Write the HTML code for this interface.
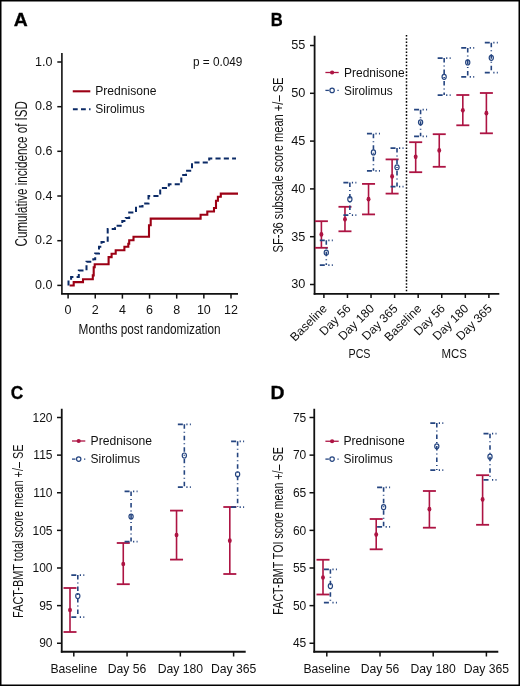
<!DOCTYPE html>
<html><head><meta charset="utf-8"><style>
html,body{margin:0;padding:0;background:#fff;}
body{width:520px;height:686px;overflow:hidden;}
svg{display:block;font-family:"Liberation Sans",sans-serif;will-change:transform;}
</style></head><body>
<svg width="520" height="686" viewBox="0 0 520 686">
<rect x="0" y="0" width="520" height="686" fill="#fff"/>
<text x="13.8" y="25.5" font-size="19" text-anchor="start" font-weight="bold" fill="#000" textLength="14.0" lengthAdjust="spacingAndGlyphs" stroke="#000" stroke-width="0.3">A</text>
<line x1="61.9" y1="53" x2="61.9" y2="294.3" stroke="#111" stroke-width="1.6" stroke-linecap="butt"/>
<line x1="61.1" y1="293.8" x2="238" y2="293.8" stroke="#111" stroke-width="1.8" stroke-linecap="butt"/>
<line x1="57.3" y1="62" x2="61.9" y2="62" stroke="#111" stroke-width="1.5" stroke-linecap="butt"/>
<text x="52.4" y="65.6" font-size="12.5" text-anchor="end" font-weight="normal" fill="#111">1.0</text>
<line x1="57.3" y1="106.7" x2="61.9" y2="106.7" stroke="#111" stroke-width="1.5" stroke-linecap="butt"/>
<text x="52.4" y="110.3" font-size="12.5" text-anchor="end" font-weight="normal" fill="#111">0.8</text>
<line x1="57.3" y1="151.3" x2="61.9" y2="151.3" stroke="#111" stroke-width="1.5" stroke-linecap="butt"/>
<text x="52.4" y="154.9" font-size="12.5" text-anchor="end" font-weight="normal" fill="#111">0.6</text>
<line x1="57.3" y1="196" x2="61.9" y2="196" stroke="#111" stroke-width="1.5" stroke-linecap="butt"/>
<text x="52.4" y="199.6" font-size="12.5" text-anchor="end" font-weight="normal" fill="#111">0.4</text>
<line x1="57.3" y1="240.7" x2="61.9" y2="240.7" stroke="#111" stroke-width="1.5" stroke-linecap="butt"/>
<text x="52.4" y="244.29999999999998" font-size="12.5" text-anchor="end" font-weight="normal" fill="#111">0.2</text>
<line x1="57.3" y1="285.4" x2="61.9" y2="285.4" stroke="#111" stroke-width="1.5" stroke-linecap="butt"/>
<text x="52.4" y="289.0" font-size="12.5" text-anchor="end" font-weight="normal" fill="#111">0.0</text>
<line x1="68.1" y1="293.8" x2="68.1" y2="298.6" stroke="#111" stroke-width="1.5" stroke-linecap="butt"/>
<text x="68.1" y="313.8" font-size="12.5" text-anchor="middle" font-weight="normal" fill="#111">0</text>
<line x1="95.25" y1="293.8" x2="95.25" y2="298.6" stroke="#111" stroke-width="1.5" stroke-linecap="butt"/>
<text x="95.25" y="313.8" font-size="12.5" text-anchor="middle" font-weight="normal" fill="#111">2</text>
<line x1="122.39999999999999" y1="293.8" x2="122.39999999999999" y2="298.6" stroke="#111" stroke-width="1.5" stroke-linecap="butt"/>
<text x="122.39999999999999" y="313.8" font-size="12.5" text-anchor="middle" font-weight="normal" fill="#111">4</text>
<line x1="149.54999999999998" y1="293.8" x2="149.54999999999998" y2="298.6" stroke="#111" stroke-width="1.5" stroke-linecap="butt"/>
<text x="149.54999999999998" y="313.8" font-size="12.5" text-anchor="middle" font-weight="normal" fill="#111">6</text>
<line x1="176.7" y1="293.8" x2="176.7" y2="298.6" stroke="#111" stroke-width="1.5" stroke-linecap="butt"/>
<text x="176.7" y="313.8" font-size="12.5" text-anchor="middle" font-weight="normal" fill="#111">8</text>
<line x1="203.85" y1="293.8" x2="203.85" y2="298.6" stroke="#111" stroke-width="1.5" stroke-linecap="butt"/>
<text x="203.85" y="313.8" font-size="12.5" text-anchor="middle" font-weight="normal" fill="#111">10</text>
<line x1="230.99999999999997" y1="293.8" x2="230.99999999999997" y2="298.6" stroke="#111" stroke-width="1.5" stroke-linecap="butt"/>
<text x="230.99999999999997" y="313.8" font-size="12.5" text-anchor="middle" font-weight="normal" fill="#111">12</text>
<text x="78.6" y="334" font-size="14.5" text-anchor="start" font-weight="normal" fill="#111" textLength="142" lengthAdjust="spacingAndGlyphs">Months post randomization</text>
<text x="26.9" y="246.4" font-size="15.8" text-anchor="start" font-weight="normal" fill="#111" textLength="145.3" lengthAdjust="spacingAndGlyphs" transform="rotate(-90 26.9 246.4)">Cumulative incidence of ISD</text>
<text x="242.4" y="66.3" font-size="12.5" text-anchor="end" font-weight="normal" fill="#111" textLength="49.5" lengthAdjust="spacingAndGlyphs">p = 0.049</text>
<line x1="72.75" y1="91.3" x2="90.3" y2="91.3" stroke="#9c0014" stroke-width="2.1" stroke-linecap="butt"/>
<line x1="72.9" y1="109.3" x2="90.5" y2="109.3" stroke="#0b2a66" stroke-width="2" stroke-dasharray="4.8 3.3" stroke-linecap="butt"/>
<text x="95.2" y="94.9" font-size="12.5" text-anchor="start" font-weight="normal" fill="#111" textLength="61.25" lengthAdjust="spacingAndGlyphs">Prednisone</text>
<text x="95.2" y="112.9" font-size="12.5" text-anchor="start" font-weight="normal" fill="#111" textLength="49.5" lengthAdjust="spacingAndGlyphs">Sirolimus</text>
<path d="M69.6,285.2 H73.7 V281.8 H83 V279 H92.8 V275.1 H93.7 V266.9 H94.7 V264 H108.6 V256.8 H111.6 V253.5 H115.7 V250 H124.4 V246.5 H128.3 V243.4 H129.2 V239.9 H133.5 V236.4 H149 V225 H150.7 V218.3 H200.6 V214.4 H207.3 V211.2 H214 V207.7 H216 V200.4 H217.9 V196.5 H220.8 V193.3 H238" fill="none" stroke="#9c0014" stroke-width="2.1" transform="translate(0 0.3)"/>
<path d="M68.5,285 V280.9 H71.1 V276.5 H78.8 V270 H86.5 V261.2 H93.3 V258.8 H95.2 V253 H99 V246.3 H101.5 V241.4 H107.7 V228.6 H115 V225.2 H122.3 V220.6 H125.8 V217.5 H129.2 V212 H136 V206 H142.5 V203 H148.5 V195.6 H160.2 V187.5 H168.8 V183.7 H181.3 V174.6 H186 V170.2 H192 V161.9 H209.2 V158.1 H236" fill="none" stroke="#0b2a66" stroke-width="2" stroke-dasharray="5.1 3.2" transform="translate(0 0.5)"/>
<text x="270.7" y="25.5" font-size="19" text-anchor="start" font-weight="bold" fill="#000" textLength="12.0" lengthAdjust="spacingAndGlyphs" stroke="#000" stroke-width="0.3">B</text>
<line x1="314.6" y1="35.75" x2="314.6" y2="294.8" stroke="#111" stroke-width="1.8" stroke-linecap="butt"/>
<line x1="313.7" y1="293.9" x2="499.3" y2="293.9" stroke="#111" stroke-width="1.8" stroke-linecap="butt"/>
<line x1="310" y1="45.5" x2="314.6" y2="45.5" stroke="#111" stroke-width="1.5" stroke-linecap="butt"/>
<text x="305.3" y="49.3" font-size="12.7" text-anchor="end" font-weight="normal" fill="#111">55</text>
<line x1="310" y1="93.3" x2="314.6" y2="93.3" stroke="#111" stroke-width="1.5" stroke-linecap="butt"/>
<text x="305.3" y="97.1" font-size="12.7" text-anchor="end" font-weight="normal" fill="#111">50</text>
<line x1="310" y1="141.1" x2="314.6" y2="141.1" stroke="#111" stroke-width="1.5" stroke-linecap="butt"/>
<text x="305.3" y="144.9" font-size="12.7" text-anchor="end" font-weight="normal" fill="#111">45</text>
<line x1="310" y1="188.89999999999998" x2="314.6" y2="188.89999999999998" stroke="#111" stroke-width="1.5" stroke-linecap="butt"/>
<text x="305.3" y="192.7" font-size="12.7" text-anchor="end" font-weight="normal" fill="#111">40</text>
<line x1="310" y1="236.7" x2="314.6" y2="236.7" stroke="#111" stroke-width="1.5" stroke-linecap="butt"/>
<text x="305.3" y="240.5" font-size="12.7" text-anchor="end" font-weight="normal" fill="#111">35</text>
<line x1="310" y1="284.5" x2="314.6" y2="284.5" stroke="#111" stroke-width="1.5" stroke-linecap="butt"/>
<text x="305.3" y="288.3" font-size="12.7" text-anchor="end" font-weight="normal" fill="#111">30</text>
<line x1="323.9" y1="293.9" x2="323.9" y2="298" stroke="#111" stroke-width="1.5" stroke-linecap="butt"/>
<text x="327.9" y="309.2" font-size="12.1" text-anchor="end" font-weight="normal" fill="#111" transform="rotate(-45 327.9 309.2)">Baseline</text>
<line x1="347.46999999999997" y1="293.9" x2="347.46999999999997" y2="298" stroke="#111" stroke-width="1.5" stroke-linecap="butt"/>
<text x="351.47" y="309.2" font-size="12.1" text-anchor="end" font-weight="normal" fill="#111" transform="rotate(-45 351.47 309.2)">Day 56</text>
<line x1="371.03999999999996" y1="293.9" x2="371.03999999999996" y2="298" stroke="#111" stroke-width="1.5" stroke-linecap="butt"/>
<text x="375.04" y="309.2" font-size="12.1" text-anchor="end" font-weight="normal" fill="#111" transform="rotate(-45 375.04 309.2)">Day 180</text>
<line x1="394.61" y1="293.9" x2="394.61" y2="298" stroke="#111" stroke-width="1.5" stroke-linecap="butt"/>
<text x="398.61" y="309.2" font-size="12.1" text-anchor="end" font-weight="normal" fill="#111" transform="rotate(-45 398.61 309.2)">Day 365</text>
<line x1="418.17999999999995" y1="293.9" x2="418.17999999999995" y2="298" stroke="#111" stroke-width="1.5" stroke-linecap="butt"/>
<text x="422.18" y="309.2" font-size="12.1" text-anchor="end" font-weight="normal" fill="#111" transform="rotate(-45 422.18 309.2)">Baseline</text>
<line x1="441.75" y1="293.9" x2="441.75" y2="298" stroke="#111" stroke-width="1.5" stroke-linecap="butt"/>
<text x="445.75" y="309.2" font-size="12.1" text-anchor="end" font-weight="normal" fill="#111" transform="rotate(-45 445.75 309.2)">Day 56</text>
<line x1="465.32" y1="293.9" x2="465.32" y2="298" stroke="#111" stroke-width="1.5" stroke-linecap="butt"/>
<text x="469.32" y="309.2" font-size="12.1" text-anchor="end" font-weight="normal" fill="#111" transform="rotate(-45 469.32 309.2)">Day 180</text>
<line x1="488.89" y1="293.9" x2="488.89" y2="298" stroke="#111" stroke-width="1.5" stroke-linecap="butt"/>
<text x="492.89" y="309.2" font-size="12.1" text-anchor="end" font-weight="normal" fill="#111" transform="rotate(-45 492.89 309.2)">Day 365</text>
<text x="359.5" y="357.7" font-size="12.5" text-anchor="middle" font-weight="normal" fill="#111" textLength="22" lengthAdjust="spacingAndGlyphs">PCS</text>
<text x="454.3" y="358" font-size="12.5" text-anchor="middle" font-weight="normal" fill="#111" textLength="25.4" lengthAdjust="spacingAndGlyphs">MCS</text>
<line x1="406.5" y1="34.9" x2="406.5" y2="293" stroke="#000" stroke-width="1.5" stroke-dasharray="1.6 1.71" stroke-linecap="butt"/>
<text x="282.8" y="252.5" font-size="15" text-anchor="start" font-weight="normal" fill="#111" textLength="175" lengthAdjust="spacingAndGlyphs" transform="rotate(-90 282.8 252.5)">SF-36 subscale score mean +/&#8211; SE</text>
<line x1="325.4" y1="72.5" x2="338.7" y2="72.5" stroke="#ad1443" stroke-width="1.3" stroke-linecap="butt"/>
<circle cx="332.09999999999997" cy="72.5" r="2.1" fill="#ad1443"/>
<line x1="325.4" y1="90.4" x2="328.9" y2="90.4" stroke="#254580" stroke-width="1.3" stroke-linecap="butt"/>
<circle cx="332.09999999999997" cy="90.4" r="2.2" fill="#fff" stroke="#254580" stroke-width="1.2"/>
<line x1="337.4" y1="90.4" x2="338.7" y2="90.4" stroke="#254580" stroke-width="1.3" stroke-linecap="butt"/>
<text x="344" y="76.7" font-size="12" text-anchor="start" font-weight="normal" fill="#111" textLength="60.6" lengthAdjust="spacingAndGlyphs">Prednisone</text>
<text x="344" y="94.7" font-size="12" text-anchor="start" font-weight="normal" fill="#111" textLength="48.7" lengthAdjust="spacingAndGlyphs">Sirolimus</text>
<line x1="321.4" y1="221.2" x2="321.4" y2="247.8" stroke="#ad1443" stroke-width="1.6" stroke-linecap="butt"/>
<line x1="314.9" y1="221.2" x2="327.9" y2="221.2" stroke="#ad1443" stroke-width="1.8" stroke-linecap="butt"/>
<line x1="314.9" y1="247.8" x2="327.9" y2="247.8" stroke="#ad1443" stroke-width="1.8" stroke-linecap="butt"/>
<ellipse cx="321.4" cy="234.4" rx="1.95" ry="2.35" fill="#ad1443"/>
<line x1="344.97" y1="206.8" x2="344.97" y2="231.3" stroke="#ad1443" stroke-width="1.6" stroke-linecap="butt"/>
<line x1="338.47" y1="206.8" x2="351.47" y2="206.8" stroke="#ad1443" stroke-width="1.8" stroke-linecap="butt"/>
<line x1="338.47" y1="231.3" x2="351.47" y2="231.3" stroke="#ad1443" stroke-width="1.8" stroke-linecap="butt"/>
<ellipse cx="344.97" cy="219.3" rx="1.95" ry="2.35" fill="#ad1443"/>
<line x1="368.54" y1="183.9" x2="368.54" y2="214.4" stroke="#ad1443" stroke-width="1.6" stroke-linecap="butt"/>
<line x1="362.04" y1="183.9" x2="375.04" y2="183.9" stroke="#ad1443" stroke-width="1.8" stroke-linecap="butt"/>
<line x1="362.04" y1="214.4" x2="375.04" y2="214.4" stroke="#ad1443" stroke-width="1.8" stroke-linecap="butt"/>
<ellipse cx="368.54" cy="199.2" rx="1.95" ry="2.35" fill="#ad1443"/>
<line x1="392.11" y1="159.4" x2="392.11" y2="193.6" stroke="#ad1443" stroke-width="1.6" stroke-linecap="butt"/>
<line x1="385.61" y1="159.4" x2="398.61" y2="159.4" stroke="#ad1443" stroke-width="1.8" stroke-linecap="butt"/>
<line x1="385.61" y1="193.6" x2="398.61" y2="193.6" stroke="#ad1443" stroke-width="1.8" stroke-linecap="butt"/>
<ellipse cx="392.11" cy="176.4" rx="1.95" ry="2.35" fill="#ad1443"/>
<line x1="415.68" y1="142.2" x2="415.68" y2="172.2" stroke="#ad1443" stroke-width="1.6" stroke-linecap="butt"/>
<line x1="409.18" y1="142.2" x2="422.18" y2="142.2" stroke="#ad1443" stroke-width="1.8" stroke-linecap="butt"/>
<line x1="409.18" y1="172.2" x2="422.18" y2="172.2" stroke="#ad1443" stroke-width="1.8" stroke-linecap="butt"/>
<ellipse cx="415.68" cy="156.8" rx="1.95" ry="2.35" fill="#ad1443"/>
<line x1="439.25" y1="134.2" x2="439.25" y2="166.8" stroke="#ad1443" stroke-width="1.6" stroke-linecap="butt"/>
<line x1="432.75" y1="134.2" x2="445.75" y2="134.2" stroke="#ad1443" stroke-width="1.8" stroke-linecap="butt"/>
<line x1="432.75" y1="166.8" x2="445.75" y2="166.8" stroke="#ad1443" stroke-width="1.8" stroke-linecap="butt"/>
<ellipse cx="439.25" cy="150.4" rx="1.95" ry="2.35" fill="#ad1443"/>
<line x1="462.82" y1="95" x2="462.82" y2="125.3" stroke="#ad1443" stroke-width="1.6" stroke-linecap="butt"/>
<line x1="456.32" y1="95" x2="469.32" y2="95" stroke="#ad1443" stroke-width="1.8" stroke-linecap="butt"/>
<line x1="456.32" y1="125.3" x2="469.32" y2="125.3" stroke="#ad1443" stroke-width="1.8" stroke-linecap="butt"/>
<ellipse cx="462.82" cy="110.3" rx="1.95" ry="2.35" fill="#ad1443"/>
<line x1="486.39" y1="93" x2="486.39" y2="133.3" stroke="#ad1443" stroke-width="1.6" stroke-linecap="butt"/>
<line x1="479.89" y1="93" x2="492.89" y2="93" stroke="#ad1443" stroke-width="1.8" stroke-linecap="butt"/>
<line x1="479.89" y1="133.3" x2="492.89" y2="133.3" stroke="#ad1443" stroke-width="1.8" stroke-linecap="butt"/>
<ellipse cx="486.39" cy="113.2" rx="1.95" ry="2.35" fill="#ad1443"/>
<line x1="326.3" y1="240.3" x2="326.3" y2="265.1" stroke="#254580" stroke-width="1.6" stroke-dasharray="4.5 3 1 3" stroke-linecap="butt"/>
<line x1="319.8" y1="240.3" x2="332.8" y2="240.3" stroke="#254580" stroke-width="1.75" stroke-dasharray="5 3.5 1.2 2.3 1.5 9" stroke-linecap="butt"/>
<line x1="319.8" y1="265.1" x2="332.8" y2="265.1" stroke="#254580" stroke-width="1.75" stroke-dasharray="5 3.5 1.2 2.3 1.5 9" stroke-linecap="butt"/>
<ellipse cx="326.3" cy="252.7" rx="2.1" ry="2.5" fill="none" stroke="#254580" stroke-width="1.2"/>
<line x1="349.87" y1="182.5" x2="349.87" y2="215.2" stroke="#254580" stroke-width="1.6" stroke-dasharray="4.5 3 1 3" stroke-linecap="butt"/>
<line x1="343.37" y1="182.5" x2="356.37" y2="182.5" stroke="#254580" stroke-width="1.75" stroke-dasharray="5 3.5 1.2 2.3 1.5 9" stroke-linecap="butt"/>
<line x1="343.37" y1="215.2" x2="356.37" y2="215.2" stroke="#254580" stroke-width="1.75" stroke-dasharray="5 3.5 1.2 2.3 1.5 9" stroke-linecap="butt"/>
<ellipse cx="349.87" cy="199.2" rx="2.1" ry="2.5" fill="none" stroke="#254580" stroke-width="1.2"/>
<line x1="373.44" y1="133.7" x2="373.44" y2="170.8" stroke="#254580" stroke-width="1.6" stroke-dasharray="4.5 3 1 3" stroke-linecap="butt"/>
<line x1="366.94" y1="133.7" x2="379.94" y2="133.7" stroke="#254580" stroke-width="1.75" stroke-dasharray="5 3.5 1.2 2.3 1.5 9" stroke-linecap="butt"/>
<line x1="366.94" y1="170.8" x2="379.94" y2="170.8" stroke="#254580" stroke-width="1.75" stroke-dasharray="5 3.5 1.2 2.3 1.5 9" stroke-linecap="butt"/>
<ellipse cx="373.44" cy="152.4" rx="2.1" ry="2.5" fill="none" stroke="#254580" stroke-width="1.2"/>
<line x1="397.01" y1="148" x2="397.01" y2="186.5" stroke="#254580" stroke-width="1.6" stroke-dasharray="4.5 3 1 3" stroke-linecap="butt"/>
<line x1="390.51" y1="148" x2="403.51" y2="148" stroke="#254580" stroke-width="1.75" stroke-dasharray="5 3.5 1.2 2.3 1.5 9" stroke-linecap="butt"/>
<line x1="390.51" y1="186.5" x2="403.51" y2="186.5" stroke="#254580" stroke-width="1.75" stroke-dasharray="5 3.5 1.2 2.3 1.5 9" stroke-linecap="butt"/>
<ellipse cx="397.01" cy="167.3" rx="2.1" ry="2.5" fill="none" stroke="#254580" stroke-width="1.2"/>
<line x1="420.58" y1="109.7" x2="420.58" y2="136.3" stroke="#254580" stroke-width="1.6" stroke-dasharray="4.5 3 1 3" stroke-linecap="butt"/>
<line x1="414.08" y1="109.7" x2="427.08" y2="109.7" stroke="#254580" stroke-width="1.75" stroke-dasharray="5 3.5 1.2 2.3 1.5 9" stroke-linecap="butt"/>
<line x1="414.08" y1="136.3" x2="427.08" y2="136.3" stroke="#254580" stroke-width="1.75" stroke-dasharray="5 3.5 1.2 2.3 1.5 9" stroke-linecap="butt"/>
<ellipse cx="420.58" cy="122.3" rx="2.1" ry="2.5" fill="none" stroke="#254580" stroke-width="1.2"/>
<line x1="444.15" y1="58" x2="444.15" y2="95.1" stroke="#254580" stroke-width="1.6" stroke-dasharray="4.5 3 1 3" stroke-linecap="butt"/>
<line x1="437.65" y1="58" x2="450.65" y2="58" stroke="#254580" stroke-width="1.75" stroke-dasharray="5 3.5 1.2 2.3 1.5 9" stroke-linecap="butt"/>
<line x1="437.65" y1="95.1" x2="450.65" y2="95.1" stroke="#254580" stroke-width="1.75" stroke-dasharray="5 3.5 1.2 2.3 1.5 9" stroke-linecap="butt"/>
<ellipse cx="444.15" cy="76.8" rx="2.1" ry="2.5" fill="none" stroke="#254580" stroke-width="1.2"/>
<line x1="467.72" y1="47.9" x2="467.72" y2="76.8" stroke="#254580" stroke-width="1.6" stroke-dasharray="4.5 3 1 3" stroke-linecap="butt"/>
<line x1="461.22" y1="47.9" x2="474.22" y2="47.9" stroke="#254580" stroke-width="1.75" stroke-dasharray="5 3.5 1.2 2.3 1.5 9" stroke-linecap="butt"/>
<line x1="461.22" y1="76.8" x2="474.22" y2="76.8" stroke="#254580" stroke-width="1.75" stroke-dasharray="5 3.5 1.2 2.3 1.5 9" stroke-linecap="butt"/>
<ellipse cx="467.72" cy="62.4" rx="2.1" ry="2.5" fill="none" stroke="#254580" stroke-width="1.2"/>
<line x1="491.29" y1="42.7" x2="491.29" y2="72.7" stroke="#254580" stroke-width="1.6" stroke-dasharray="4.5 3 1 3" stroke-linecap="butt"/>
<line x1="484.79" y1="42.7" x2="497.79" y2="42.7" stroke="#254580" stroke-width="1.75" stroke-dasharray="5 3.5 1.2 2.3 1.5 9" stroke-linecap="butt"/>
<line x1="484.79" y1="72.7" x2="497.79" y2="72.7" stroke="#254580" stroke-width="1.75" stroke-dasharray="5 3.5 1.2 2.3 1.5 9" stroke-linecap="butt"/>
<ellipse cx="491.29" cy="57.8" rx="2.1" ry="2.5" fill="none" stroke="#254580" stroke-width="1.2"/>
<text x="10.7" y="399.1" font-size="19" text-anchor="start" font-weight="bold" fill="#000" textLength="12.5" lengthAdjust="spacingAndGlyphs" stroke="#000" stroke-width="0.3">C</text>
<line x1="61.75" y1="408.75" x2="61.75" y2="652.6" stroke="#111" stroke-width="1.8" stroke-linecap="butt"/>
<line x1="60.85" y1="651.75" x2="245.7" y2="651.75" stroke="#111" stroke-width="1.8" stroke-linecap="butt"/>
<line x1="57" y1="417.5" x2="61.75" y2="417.5" stroke="#111" stroke-width="1.5" stroke-linecap="butt"/>
<text x="52.5" y="421.7" font-size="12" text-anchor="end" font-weight="normal" fill="#111">120</text>
<line x1="57" y1="455.125" x2="61.75" y2="455.125" stroke="#111" stroke-width="1.5" stroke-linecap="butt"/>
<text x="52.5" y="459.325" font-size="12" text-anchor="end" font-weight="normal" fill="#111">115</text>
<line x1="57" y1="492.75" x2="61.75" y2="492.75" stroke="#111" stroke-width="1.5" stroke-linecap="butt"/>
<text x="52.5" y="496.95" font-size="12" text-anchor="end" font-weight="normal" fill="#111">110</text>
<line x1="57" y1="530.375" x2="61.75" y2="530.375" stroke="#111" stroke-width="1.5" stroke-linecap="butt"/>
<text x="52.5" y="534.575" font-size="12" text-anchor="end" font-weight="normal" fill="#111">105</text>
<line x1="57" y1="568.0" x2="61.75" y2="568.0" stroke="#111" stroke-width="1.5" stroke-linecap="butt"/>
<text x="52.5" y="572.2" font-size="12" text-anchor="end" font-weight="normal" fill="#111">100</text>
<line x1="57" y1="605.625" x2="61.75" y2="605.625" stroke="#111" stroke-width="1.5" stroke-linecap="butt"/>
<text x="52.5" y="609.825" font-size="12" text-anchor="end" font-weight="normal" fill="#111">95</text>
<line x1="57" y1="643.25" x2="61.75" y2="643.25" stroke="#111" stroke-width="1.5" stroke-linecap="butt"/>
<text x="52.5" y="647.45" font-size="12" text-anchor="end" font-weight="normal" fill="#111">90</text>
<line x1="73.8" y1="651.75" x2="73.8" y2="656.5" stroke="#111" stroke-width="1.5" stroke-linecap="butt"/>
<text x="73.8" y="672.5" font-size="12.2" text-anchor="middle" font-weight="normal" fill="#111">Baseline</text>
<line x1="127.07" y1="651.75" x2="127.07" y2="656.5" stroke="#111" stroke-width="1.5" stroke-linecap="butt"/>
<text x="127.07" y="672.5" font-size="12.2" text-anchor="middle" font-weight="normal" fill="#111">Day 56</text>
<line x1="180.34" y1="651.75" x2="180.34" y2="656.5" stroke="#111" stroke-width="1.5" stroke-linecap="butt"/>
<text x="180.34" y="672.5" font-size="12.2" text-anchor="middle" font-weight="normal" fill="#111">Day 180</text>
<line x1="233.61" y1="651.75" x2="233.61" y2="656.5" stroke="#111" stroke-width="1.5" stroke-linecap="butt"/>
<text x="233.61" y="672.5" font-size="12.2" text-anchor="middle" font-weight="normal" fill="#111">Day 365</text>
<text x="23.2" y="617.9" font-size="15.5" text-anchor="start" font-weight="normal" fill="#111" textLength="173.5" lengthAdjust="spacingAndGlyphs" transform="rotate(-90 23.2 617.9)">FACT-BMT total score mean +/&#8211; SE</text>
<line x1="72" y1="441" x2="85.3" y2="441" stroke="#ad1443" stroke-width="1.3" stroke-linecap="butt"/>
<circle cx="78.7" cy="441" r="2.1" fill="#ad1443"/>
<line x1="72" y1="459.1" x2="75.5" y2="459.1" stroke="#254580" stroke-width="1.3" stroke-linecap="butt"/>
<circle cx="78.7" cy="459.1" r="2.2" fill="#fff" stroke="#254580" stroke-width="1.2"/>
<line x1="84" y1="459.1" x2="85.3" y2="459.1" stroke="#254580" stroke-width="1.3" stroke-linecap="butt"/>
<text x="90.6" y="445.1" font-size="12" text-anchor="start" font-weight="normal" fill="#111" textLength="61.5" lengthAdjust="spacingAndGlyphs">Prednisone</text>
<text x="90.6" y="463.0" font-size="12" text-anchor="start" font-weight="normal" fill="#111" textLength="49.5" lengthAdjust="spacingAndGlyphs">Sirolimus</text>
<line x1="70.0" y1="588" x2="70.0" y2="632" stroke="#ad1443" stroke-width="1.6" stroke-linecap="butt"/>
<line x1="63.5" y1="588" x2="76.5" y2="588" stroke="#ad1443" stroke-width="1.8" stroke-linecap="butt"/>
<line x1="63.5" y1="632" x2="76.5" y2="632" stroke="#ad1443" stroke-width="1.8" stroke-linecap="butt"/>
<ellipse cx="70.0" cy="610" rx="1.95" ry="2.35" fill="#ad1443"/>
<line x1="123.27" y1="543" x2="123.27" y2="584.2" stroke="#ad1443" stroke-width="1.6" stroke-linecap="butt"/>
<line x1="116.77" y1="543" x2="129.76999999999998" y2="543" stroke="#ad1443" stroke-width="1.8" stroke-linecap="butt"/>
<line x1="116.77" y1="584.2" x2="129.76999999999998" y2="584.2" stroke="#ad1443" stroke-width="1.8" stroke-linecap="butt"/>
<ellipse cx="123.27" cy="564" rx="1.95" ry="2.35" fill="#ad1443"/>
<line x1="176.54" y1="510.6" x2="176.54" y2="559.6" stroke="#ad1443" stroke-width="1.6" stroke-linecap="butt"/>
<line x1="170.04" y1="510.6" x2="183.04" y2="510.6" stroke="#ad1443" stroke-width="1.8" stroke-linecap="butt"/>
<line x1="170.04" y1="559.6" x2="183.04" y2="559.6" stroke="#ad1443" stroke-width="1.8" stroke-linecap="butt"/>
<ellipse cx="176.54" cy="535" rx="1.95" ry="2.35" fill="#ad1443"/>
<line x1="229.81" y1="507" x2="229.81" y2="574" stroke="#ad1443" stroke-width="1.6" stroke-linecap="butt"/>
<line x1="223.31" y1="507" x2="236.31" y2="507" stroke="#ad1443" stroke-width="1.8" stroke-linecap="butt"/>
<line x1="223.31" y1="574" x2="236.31" y2="574" stroke="#ad1443" stroke-width="1.8" stroke-linecap="butt"/>
<ellipse cx="229.81" cy="540.7" rx="1.95" ry="2.35" fill="#ad1443"/>
<line x1="77.8" y1="575" x2="77.8" y2="617" stroke="#254580" stroke-width="1.6" stroke-dasharray="4.5 3 1 3" stroke-linecap="butt"/>
<line x1="71.3" y1="575" x2="84.3" y2="575" stroke="#254580" stroke-width="1.75" stroke-dasharray="5 3.5 1.2 2.3 1.5 9" stroke-linecap="butt"/>
<line x1="71.3" y1="617" x2="84.3" y2="617" stroke="#254580" stroke-width="1.75" stroke-dasharray="5 3.5 1.2 2.3 1.5 9" stroke-linecap="butt"/>
<ellipse cx="77.8" cy="596" rx="2.1" ry="2.5" fill="none" stroke="#254580" stroke-width="1.2"/>
<line x1="131.07" y1="491.4" x2="131.07" y2="541.6" stroke="#254580" stroke-width="1.6" stroke-dasharray="4.5 3 1 3" stroke-linecap="butt"/>
<line x1="124.57" y1="491.4" x2="137.57" y2="491.4" stroke="#254580" stroke-width="1.75" stroke-dasharray="5 3.5 1.2 2.3 1.5 9" stroke-linecap="butt"/>
<line x1="124.57" y1="541.6" x2="137.57" y2="541.6" stroke="#254580" stroke-width="1.75" stroke-dasharray="5 3.5 1.2 2.3 1.5 9" stroke-linecap="butt"/>
<ellipse cx="131.07" cy="516.6" rx="2.1" ry="2.5" fill="none" stroke="#254580" stroke-width="1.2"/>
<line x1="184.34" y1="424.25" x2="184.34" y2="487" stroke="#254580" stroke-width="1.6" stroke-dasharray="4.5 3 1 3" stroke-linecap="butt"/>
<line x1="177.84" y1="424.25" x2="190.84" y2="424.25" stroke="#254580" stroke-width="1.75" stroke-dasharray="5 3.5 1.2 2.3 1.5 9" stroke-linecap="butt"/>
<line x1="177.84" y1="487" x2="190.84" y2="487" stroke="#254580" stroke-width="1.75" stroke-dasharray="5 3.5 1.2 2.3 1.5 9" stroke-linecap="butt"/>
<ellipse cx="184.34" cy="455.5" rx="2.1" ry="2.5" fill="none" stroke="#254580" stroke-width="1.2"/>
<line x1="237.61" y1="441.25" x2="237.61" y2="507" stroke="#254580" stroke-width="1.6" stroke-dasharray="4.5 3 1 3" stroke-linecap="butt"/>
<line x1="231.11" y1="441.25" x2="244.11" y2="441.25" stroke="#254580" stroke-width="1.75" stroke-dasharray="5 3.5 1.2 2.3 1.5 9" stroke-linecap="butt"/>
<line x1="231.11" y1="507" x2="244.11" y2="507" stroke="#254580" stroke-width="1.75" stroke-dasharray="5 3.5 1.2 2.3 1.5 9" stroke-linecap="butt"/>
<ellipse cx="237.61" cy="474.25" rx="2.1" ry="2.5" fill="none" stroke="#254580" stroke-width="1.2"/>
<text x="270.6" y="398.7" font-size="19" text-anchor="start" font-weight="bold" fill="#000" textLength="14.0" lengthAdjust="spacingAndGlyphs" stroke="#000" stroke-width="0.3">D</text>
<line x1="314.25" y1="408.75" x2="314.25" y2="652.6" stroke="#111" stroke-width="1.8" stroke-linecap="butt"/>
<line x1="313.35" y1="651.75" x2="498.3" y2="651.75" stroke="#111" stroke-width="1.8" stroke-linecap="butt"/>
<line x1="309.5" y1="417.5" x2="314.25" y2="417.5" stroke="#111" stroke-width="1.5" stroke-linecap="butt"/>
<text x="306.25" y="421.7" font-size="12" text-anchor="end" font-weight="normal" fill="#111">75</text>
<line x1="309.5" y1="455.125" x2="314.25" y2="455.125" stroke="#111" stroke-width="1.5" stroke-linecap="butt"/>
<text x="306.25" y="459.325" font-size="12" text-anchor="end" font-weight="normal" fill="#111">70</text>
<line x1="309.5" y1="492.75" x2="314.25" y2="492.75" stroke="#111" stroke-width="1.5" stroke-linecap="butt"/>
<text x="306.25" y="496.95" font-size="12" text-anchor="end" font-weight="normal" fill="#111">65</text>
<line x1="309.5" y1="530.375" x2="314.25" y2="530.375" stroke="#111" stroke-width="1.5" stroke-linecap="butt"/>
<text x="306.25" y="534.575" font-size="12" text-anchor="end" font-weight="normal" fill="#111">60</text>
<line x1="309.5" y1="568.0" x2="314.25" y2="568.0" stroke="#111" stroke-width="1.5" stroke-linecap="butt"/>
<text x="306.25" y="572.2" font-size="12" text-anchor="end" font-weight="normal" fill="#111">55</text>
<line x1="309.5" y1="605.625" x2="314.25" y2="605.625" stroke="#111" stroke-width="1.5" stroke-linecap="butt"/>
<text x="306.25" y="609.825" font-size="12" text-anchor="end" font-weight="normal" fill="#111">50</text>
<line x1="309.5" y1="643.25" x2="314.25" y2="643.25" stroke="#111" stroke-width="1.5" stroke-linecap="butt"/>
<text x="306.25" y="647.45" font-size="12" text-anchor="end" font-weight="normal" fill="#111">45</text>
<line x1="326.8" y1="651.75" x2="326.8" y2="656.5" stroke="#111" stroke-width="1.5" stroke-linecap="butt"/>
<text x="326.8" y="672.5" font-size="12.2" text-anchor="middle" font-weight="normal" fill="#111">Baseline</text>
<line x1="380.0" y1="651.75" x2="380.0" y2="656.5" stroke="#111" stroke-width="1.5" stroke-linecap="butt"/>
<text x="380.0" y="672.5" font-size="12.2" text-anchor="middle" font-weight="normal" fill="#111">Day 56</text>
<line x1="433.20000000000005" y1="651.75" x2="433.20000000000005" y2="656.5" stroke="#111" stroke-width="1.5" stroke-linecap="butt"/>
<text x="433.2" y="672.5" font-size="12.2" text-anchor="middle" font-weight="normal" fill="#111">Day 180</text>
<line x1="486.40000000000003" y1="651.75" x2="486.40000000000003" y2="656.5" stroke="#111" stroke-width="1.5" stroke-linecap="butt"/>
<text x="486.4" y="672.5" font-size="12.2" text-anchor="middle" font-weight="normal" fill="#111">Day 365</text>
<text x="283.1" y="614.7" font-size="15.5" text-anchor="start" font-weight="normal" fill="#111" textLength="167.5" lengthAdjust="spacingAndGlyphs" transform="rotate(-90 283.1 614.7)">FACT-BMT TOI score mean +/&#8211; SE</text>
<line x1="325.4" y1="441.25" x2="338.7" y2="441.25" stroke="#ad1443" stroke-width="1.3" stroke-linecap="butt"/>
<circle cx="332.09999999999997" cy="441.25" r="2.1" fill="#ad1443"/>
<line x1="325.4" y1="459.1" x2="328.9" y2="459.1" stroke="#254580" stroke-width="1.3" stroke-linecap="butt"/>
<circle cx="332.09999999999997" cy="459.1" r="2.2" fill="#fff" stroke="#254580" stroke-width="1.2"/>
<line x1="337.4" y1="459.1" x2="338.7" y2="459.1" stroke="#254580" stroke-width="1.3" stroke-linecap="butt"/>
<text x="343.5" y="445.1" font-size="12" text-anchor="start" font-weight="normal" fill="#111" textLength="61.3" lengthAdjust="spacingAndGlyphs">Prednisone</text>
<text x="343.5" y="463.0" font-size="12" text-anchor="start" font-weight="normal" fill="#111" textLength="49.2" lengthAdjust="spacingAndGlyphs">Sirolimus</text>
<line x1="323.0" y1="559.75" x2="323.0" y2="594.5" stroke="#ad1443" stroke-width="1.6" stroke-linecap="butt"/>
<line x1="316.5" y1="559.75" x2="329.5" y2="559.75" stroke="#ad1443" stroke-width="1.8" stroke-linecap="butt"/>
<line x1="316.5" y1="594.5" x2="329.5" y2="594.5" stroke="#ad1443" stroke-width="1.8" stroke-linecap="butt"/>
<ellipse cx="323.0" cy="577.5" rx="1.95" ry="2.35" fill="#ad1443"/>
<line x1="376.2" y1="519" x2="376.2" y2="549.3" stroke="#ad1443" stroke-width="1.6" stroke-linecap="butt"/>
<line x1="369.7" y1="519" x2="382.7" y2="519" stroke="#ad1443" stroke-width="1.8" stroke-linecap="butt"/>
<line x1="369.7" y1="549.3" x2="382.7" y2="549.3" stroke="#ad1443" stroke-width="1.8" stroke-linecap="butt"/>
<ellipse cx="376.2" cy="534.6" rx="1.95" ry="2.35" fill="#ad1443"/>
<line x1="429.4" y1="491" x2="429.4" y2="527.7" stroke="#ad1443" stroke-width="1.6" stroke-linecap="butt"/>
<line x1="422.9" y1="491" x2="435.9" y2="491" stroke="#ad1443" stroke-width="1.8" stroke-linecap="butt"/>
<line x1="422.9" y1="527.7" x2="435.9" y2="527.7" stroke="#ad1443" stroke-width="1.8" stroke-linecap="butt"/>
<ellipse cx="429.4" cy="509.2" rx="1.95" ry="2.35" fill="#ad1443"/>
<line x1="482.6" y1="475.2" x2="482.6" y2="524.8" stroke="#ad1443" stroke-width="1.6" stroke-linecap="butt"/>
<line x1="476.1" y1="475.2" x2="489.1" y2="475.2" stroke="#ad1443" stroke-width="1.8" stroke-linecap="butt"/>
<line x1="476.1" y1="524.8" x2="489.1" y2="524.8" stroke="#ad1443" stroke-width="1.8" stroke-linecap="butt"/>
<ellipse cx="482.6" cy="499.4" rx="1.95" ry="2.35" fill="#ad1443"/>
<line x1="330.4" y1="569.25" x2="330.4" y2="602.5" stroke="#254580" stroke-width="1.6" stroke-dasharray="4.5 3 1 3" stroke-linecap="butt"/>
<line x1="323.9" y1="569.25" x2="336.9" y2="569.25" stroke="#254580" stroke-width="1.75" stroke-dasharray="5 3.5 1.2 2.3 1.5 9" stroke-linecap="butt"/>
<line x1="323.9" y1="602.5" x2="336.9" y2="602.5" stroke="#254580" stroke-width="1.75" stroke-dasharray="5 3.5 1.2 2.3 1.5 9" stroke-linecap="butt"/>
<ellipse cx="330.4" cy="586" rx="2.1" ry="2.5" fill="none" stroke="#254580" stroke-width="1.2"/>
<line x1="383.6" y1="487.3" x2="383.6" y2="526.8" stroke="#254580" stroke-width="1.6" stroke-dasharray="4.5 3 1 3" stroke-linecap="butt"/>
<line x1="377.1" y1="487.3" x2="390.1" y2="487.3" stroke="#254580" stroke-width="1.75" stroke-dasharray="5 3.5 1.2 2.3 1.5 9" stroke-linecap="butt"/>
<line x1="377.1" y1="526.8" x2="390.1" y2="526.8" stroke="#254580" stroke-width="1.75" stroke-dasharray="5 3.5 1.2 2.3 1.5 9" stroke-linecap="butt"/>
<ellipse cx="383.6" cy="507.2" rx="2.1" ry="2.5" fill="none" stroke="#254580" stroke-width="1.2"/>
<line x1="436.8" y1="423" x2="436.8" y2="470" stroke="#254580" stroke-width="1.6" stroke-dasharray="4.5 3 1 3" stroke-linecap="butt"/>
<line x1="430.3" y1="423" x2="443.3" y2="423" stroke="#254580" stroke-width="1.75" stroke-dasharray="5 3.5 1.2 2.3 1.5 9" stroke-linecap="butt"/>
<line x1="430.3" y1="470" x2="443.3" y2="470" stroke="#254580" stroke-width="1.75" stroke-dasharray="5 3.5 1.2 2.3 1.5 9" stroke-linecap="butt"/>
<ellipse cx="436.8" cy="446.3" rx="2.1" ry="2.5" fill="none" stroke="#254580" stroke-width="1.2"/>
<line x1="490.0" y1="433.65" x2="490.0" y2="479.8" stroke="#254580" stroke-width="1.6" stroke-dasharray="4.5 3 1 3" stroke-linecap="butt"/>
<line x1="483.5" y1="433.65" x2="496.5" y2="433.65" stroke="#254580" stroke-width="1.75" stroke-dasharray="5 3.5 1.2 2.3 1.5 9" stroke-linecap="butt"/>
<line x1="483.5" y1="479.8" x2="496.5" y2="479.8" stroke="#254580" stroke-width="1.75" stroke-dasharray="5 3.5 1.2 2.3 1.5 9" stroke-linecap="butt"/>
<ellipse cx="490.0" cy="456.7" rx="2.1" ry="2.5" fill="none" stroke="#254580" stroke-width="1.2"/>
<rect x="0" y="0" width="520" height="1.5" fill="#000"/><rect x="0" y="0" width="1.5" height="686" fill="#000"/><rect x="518.5" y="0" width="1.5" height="686" fill="#000"/><rect x="0" y="684.5" width="520" height="1.5" fill="#000"/>
</svg>
</body></html>
